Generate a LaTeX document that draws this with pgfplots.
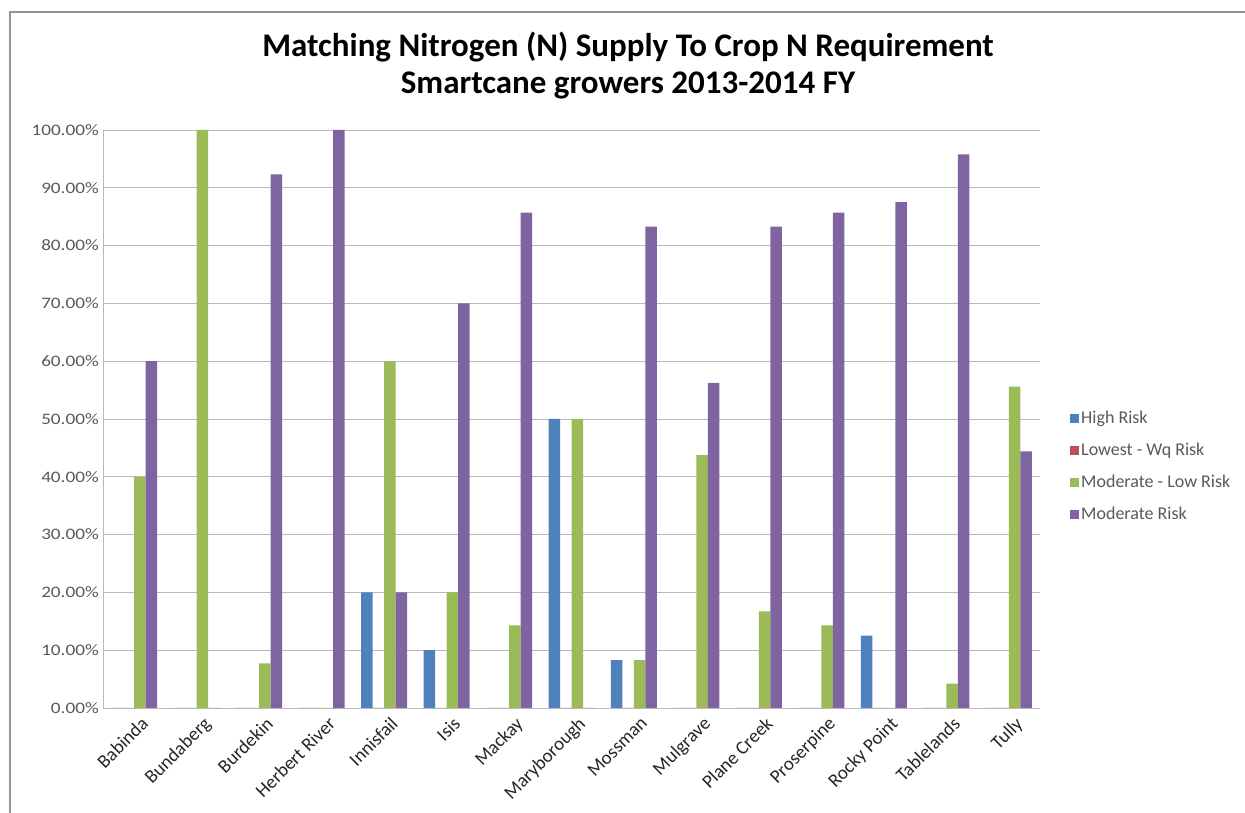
\documentclass[border=0pt]{standalone}
\usepackage{pgfplots}
\pgfplotsset{compat=1.18}
\usepackage{pgfplotstable}
\usepackage{fontspec}
\setmainfont{Carlito}
\definecolor{cHigh}{HTML}{4F81BD}
\definecolor{cLow}{HTML}{C0504D}
\definecolor{cML}{HTML}{9BBB59}
\definecolor{cMod}{HTML}{8064A2}
\definecolor{txtgray}{HTML}{595959}
\pgfplotstableread{
idx High Lowest ModLow Mod
0 0 0 40 60
1 0 0 100 0
2 0 0 7.7 92.3
3 0 0 0 100
4 20 0 60 20
5 10 0 20 70
6 0 0 14.3 85.7
7 50 0 50 0
8 8.3 0 8.3 83.3
9 0 0 43.75 56.25
10 0 0 16.7 83.3
11 0 0 14.3 85.7
12 12.5 0 0 87.5
13 0 0 4.2 95.8
14 0 0 55.6 44.4
}\datatable
\begin{document}
\begin{tikzpicture}
\path[use as bounding box] (0pt,0pt) rectangle (1245pt,813pt);
\draw[color=gray!85, line width=1.3pt] (10pt,0pt) -- (10pt,801pt) -- (1245pt,801pt);
\node[font=\bfseries\fontsize{33}{37}\selectfont, align=center] at (628pt,747pt)
  {Matching Nitrogen (N) Supply To Crop N Requirement\\Smartcane growers 2013-2014 FY};
\begin{axis}[
  at={(103pt,105pt)}, anchor=south west,
  scale only axis, width=937pt, height=578pt,
  ybar=0pt, bar width=11.5pt,
  xmin=-0.5, xmax=14.5, ymin=0, ymax=100,
  xtick=data,
  xticklabels={Babinda,Bundaberg,Burdekin,Herbert River,Innisfail,Isis,Mackay,Maryborough,Mossman,Mulgrave,Plane Creek,Proserpine,Rocky Point,Tablelands,Tully},
  xticklabel style={rotate=45, anchor=north east, font=\fontsize{19}{19}\selectfont, text=black!85, xshift=2pt, yshift=-6pt},
  ytick={0,10,...,100},
  yticklabel={\pgfmathprintnumber[fixed,fixed zerofill,precision=2]{\tick}\%},
  /pgf/number format/assume math mode=true,
  yticklabel style={font=\fontsize{16}{16}\selectfont, text=txtgray, xscale=1.2},
  major tick length=0pt,
  ymajorgrids, grid style={draw=gray!55, line width=0.9pt},
  axis x line*=bottom, axis y line*=left,
  axis line style={draw=gray!55, line width=0.9pt, -},
  legend style={at={(1.032,0.5175)}, anchor=north west, draw=none, fill=none,
    font=\fontsize{18}{18}\selectfont, text=txtgray, row sep=14pt, inner sep=0pt,
    cells={anchor=west}},
  legend image code/.code={\fill[#1] (0pt,-4.5pt) rectangle (9pt,4.5pt);},
]
\addplot[fill=cHigh, draw=none] table[x=idx,y=High] {\datatable};
\addplot[fill=cLow, draw=none] table[x=idx,y=Lowest] {\datatable};
\addplot[fill=cML, draw=none] table[x=idx,y=ModLow] {\datatable};
\addplot[fill=cMod, draw=none] table[x=idx,y=Mod] {\datatable};
\legend{High Risk,Lowest - Wq Risk,Moderate - Low Risk,Moderate Risk}
\end{axis}
\end{tikzpicture}
\end{document}
